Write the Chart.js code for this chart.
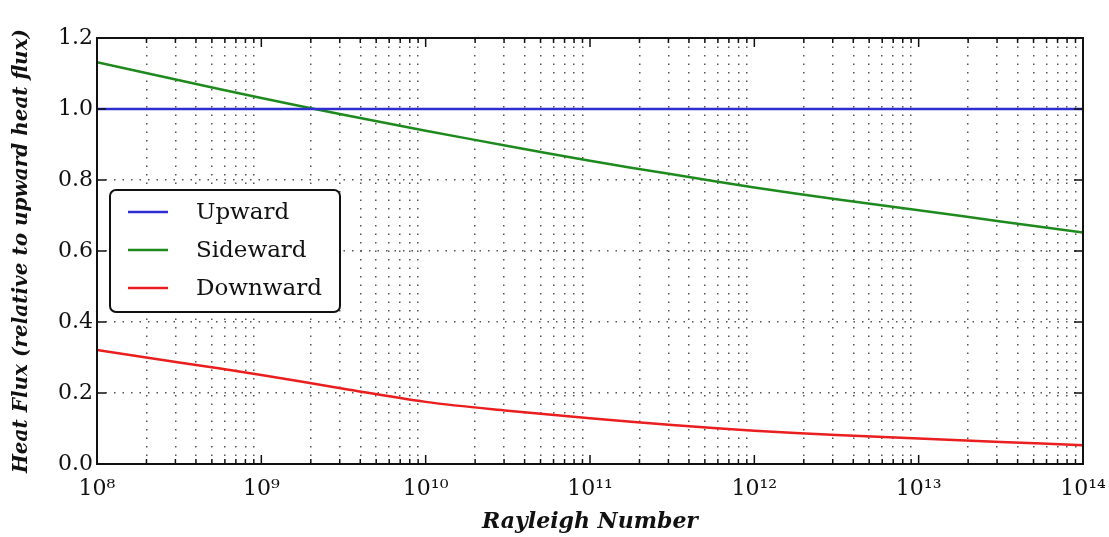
<!DOCTYPE html>
<html>
<head>
<meta charset="utf-8">
<script src="https://cdn.jsdelivr.net/npm/chart.js@4.4.1/dist/chart.umd.min.js"></script>
<style>
  html, body { margin: 0; padding: 0; background: #fff; }
  #wrap { width: 1109px; height: 537px; }
</style>
</head>
<body>
<div id="wrap"><canvas id="fluxChart"></canvas></div>
<script>
// Rayleigh numbers at which the curves are sampled (half-decade steps)
const rayleigh = [1e8, 3.16e8, 1e9, 3.16e9, 1e10, 3.16e10, 1e11, 3.16e11, 1e12, 3.16e12, 1e13, 3.16e13, 1e14];
// heat flux, relative to the upward flux
const upward   = [1, 1, 1, 1, 1, 1, 1, 1, 1, 1, 1, 1, 1];
const sideward = [1.132, 1.081, 1.031, 0.984, 0.939, 0.896, 0.854, 0.816, 0.779, 0.746, 0.715, 0.683, 0.652];
const downward = [0.321, 0.286, 0.251, 0.212, 0.175, 0.150, 0.129, 0.110, 0.094, 0.082, 0.072, 0.062, 0.053];

const seriesNames  = ['Upward', 'Sideward', 'Downward'];
const seriesColors = ['#2e2ed0', '#1e8a1e', '#ea1e1e'];

const decadeTicks = [1e8, 1e9, 1e10, 1e11, 1e12, 1e13, 1e14];
const yTicks = [0, 0.2, 0.4, 0.6, 0.8, 1.0, 1.2];

const SERIF = '"DejaVu Serif", "Liberation Serif", serif';
const SUP = '⁰¹²³⁴⁵⁶⁷⁸⁹';

// every 1..9 x 10^k position, used for the minor grid and ticks
const logTicks = [];
for (let k = 0; k < decadeTicks.length - 1; k++) {
    for (let m = 1; m < 10; m++) logTicks.push(decadeTicks[k] * m);
}
logTicks.push(decadeTicks[decadeTicks.length - 1]);

function isDecade(v) {
    return decadeTicks.some(d => Math.abs(v / d - 1) < 1e-6);
}

function powerLabel(v) {
    const e = String(Math.round(Math.log10(v)));
    return '10' + e.split('').map(c => SUP[+c]).join('');
}

const series = [upward, sideward, downward];

// box around the plot plus matplotlib-style inward ticks
const frameTicks = {
    id: 'frameTicks',
    afterDatasetsDraw(chart) {
        const { ctx, chartArea: a, scales } = chart;
        ctx.save();
        ctx.strokeStyle = '#111';
        ctx.lineWidth = 1.5;
        ctx.beginPath();
        scales.x.ticks.forEach(t => {
            const px = scales.x.getPixelForValue(t.value);
            const len = isDecade(t.value) ? 9 : 5;
            ctx.moveTo(px, a.bottom); ctx.lineTo(px, a.bottom - len);
            ctx.moveTo(px, a.top); ctx.lineTo(px, a.top + len);
        });
        scales.y.ticks.forEach(t => {
            const py = scales.y.getPixelForValue(t.value);
            ctx.moveTo(a.left, py); ctx.lineTo(a.left + 9, py);
            ctx.moveTo(a.right, py); ctx.lineTo(a.right - 9, py);
        });
        ctx.stroke();
        ctx.lineWidth = 2;
        ctx.strokeRect(a.left, a.top, a.right - a.left, a.bottom - a.top);
        ctx.restore();
    }
};

// framed legend sitting inside the plot on the left
const boxLegend = {
    id: 'boxLegend',
    afterDraw(chart) {
        const { ctx, chartArea: a } = chart;
        const x0 = a.left + 13, y0 = a.top + 152, w = 230, h = 122, r = 6;
        ctx.save();
        ctx.beginPath();
        ctx.roundRect(x0, y0, w, h, r);
        ctx.fillStyle = '#fff';
        ctx.fill();
        ctx.lineWidth = 2;
        ctx.strokeStyle = '#111';
        ctx.stroke();
        chart.data.datasets.forEach((ds, i) => {
            const y = y0 + 22 + i * 38;
            ctx.beginPath();
            ctx.strokeStyle = ds.borderColor;
            ctx.lineWidth = 2.5;
            ctx.moveTo(x0 + 18, y);
            ctx.lineTo(x0 + 58, y);
            ctx.stroke();
            ctx.fillStyle = '#111';
            ctx.font = '23px ' + SERIF;
            ctx.textBaseline = 'middle';
            ctx.fillText(ds.label, x0 + 86, y + 1);
        });
        ctx.restore();
    }
};

new Chart(document.getElementById('fluxChart'), {
    type: 'line',
    data: {
        datasets: series.map((vals, i) => ({
            label: seriesNames[i],
            data: rayleigh.map((x, j) => ({ x: x, y: vals[j] })),
            borderColor: seriesColors[i],
            borderWidth: 2.5,
            pointRadius: 0,
            tension: 0.35,
            fill: false
        }))
    },
    options: {
        responsive: true,
        maintainAspectRatio: false,
        animation: false,
        layout: { padding: { top: 38, right: 26, bottom: 0, left: 0 } },
        plugins: {
            legend: { display: false },
            tooltip: { enabled: false }
        },
        scales: {
            x: {
                type: 'logarithmic',
                min: 1e8,
                max: 1e14,
                afterBuildTicks: axis => {
                    axis.ticks = logTicks.map(v => ({ value: v, major: isDecade(v) }));
                },
                // fixed band below the plot; end labels may hang over the edges
                afterFit: axis => {
                    axis.height = 73;
                    axis.paddingLeft = 0;
                    axis.paddingRight = 0;
                },
                ticks: {
                    autoSkip: false,
                    maxRotation: 0,
                    padding: 12,
                    color: '#111',
                    font: { family: SERIF, size: 22 },
                    callback: v => isDecade(v) ? powerLabel(v) : ''
                },
                grid: {
                    drawTicks: false,
                    lineWidth: 1.5,
                    color: c => (c.tick && isDecade(c.tick.value)) ? 'rgba(0,0,0,0)' : '#555'
                },
                border: { display: false, dash: [1.5, 7] },
                title: {
                    display: true,
                    text: 'Rayleigh Number',
                    color: '#111',
                    font: { family: SERIF, size: 22, style: 'italic', weight: 'bold' },
                    padding: { top: 2, bottom: 2 }
                }
            },
            y: {
                min: 0,
                max: 1.2,
                afterBuildTicks: axis => {
                    axis.ticks = yTicks.map(v => ({ value: v }));
                },
                afterFit: axis => {
                    axis.width = 97;
                },
                ticks: {
                    padding: 4,
                    color: '#111',
                    font: { family: SERIF, size: 22 },
                    callback: v => v.toFixed(1)
                },
                grid: {
                    drawTicks: false,
                    lineWidth: 1.5,
                    color: c => (c.tick && (c.tick.value === 0 || c.tick.value === 1.2)) ? 'rgba(0,0,0,0)' : '#555'
                },
                border: { display: false, dash: [1.5, 7] },
                title: {
                    display: true,
                    text: 'Heat Flux (relative to upward heat flux)',
                    color: '#111',
                    font: { family: SERIF, size: 20, style: 'italic', weight: 'bold' },
                    padding: { top: 10, bottom: 0 }
                }
            }
        }
    },
    plugins: [frameTicks, boxLegend]
});
</script>
</body>
</html>
